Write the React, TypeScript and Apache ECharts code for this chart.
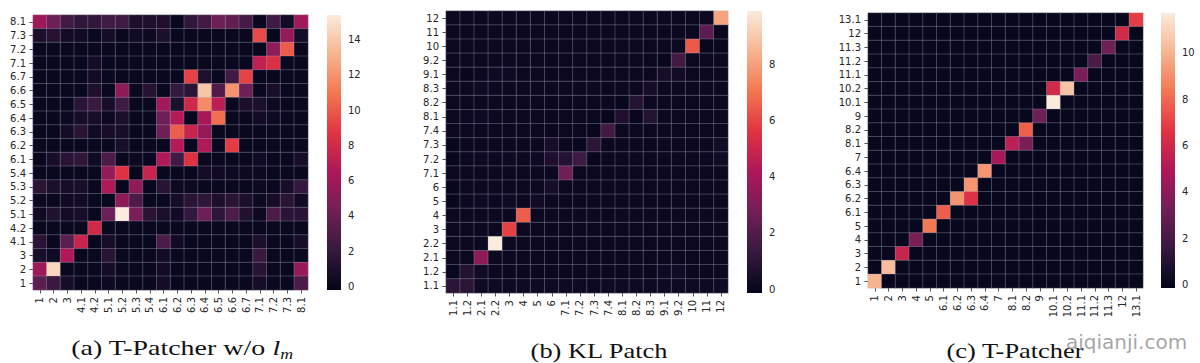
import React, { useEffect, useRef } from 'react';
import * as echarts from 'echarts';

// ---------- categories ----------
const A_CATS = ['1', '2', '3', '4.1', '4.2', '5.1', '5.2', '5.3', '5.4', '6.1', '6.2', '6.3', '6.4', '6.5', '6.6', '6.7', '7.1', '7.2', '7.3', '8.1'];
const B_CATS = ['1.1', '1.2', '2.1', '2.2', '3', '4', '5', '6', '7.1', '7.2', '7.3', '7.4', '8.1', '8.2', '8.3', '9.1', '9.2', '10', '11', '12'];
const C_CATS = ['1', '2', '3', '4', '5', '6.1', '6.2', '6.3', '6.4', '7', '8.1', '8.2', '9', '10.1', '10.2', '11.1', '11.2', '11.3', '12', '13.1'];

// ---------- values: rows listed top (last category) to bottom (first category) ----------
const A_ROWS = [
  [5.9, 4.2, 2.4, 1.8, 1.8, 2.4, 2.4, 0.9, 1.0, 1.0, 0.1, 1.8, 2.5, 4.2, 3.7, 2.6, 0.1, 2.4, 0.5, 6.0], // 8.1
  [0.9, 1.3, 0.5, 0.4, 0.1, 0.6, 0.1, 0.4, 0.2, 0.9, 0.1, 0.1, 0.1, 0.1, 0.1, 0.1, 9.5, 0.0, 5.6, 0.6], // 7.3
  [0.1, 0.1, 0.1, 0.1, 0.1, 0.1, 0.1, 0.1, 0.1, 0.1, 0.1, 0.1, 0.1, 0.1, 0.1, 0.1, 0.0, 5.4, 10.0, 0.1], // 7.2
  [0.1, 0.1, 0.1, 0.1, 0.6, 0.1, 0.1, 0.1, 0.1, 0.1, 0.1, 0.1, 0.1, 0.1, 0.1, 0.1, 7.3, 8.4, 0.1, 0.1], // 7.1
  [0.1, 0.1, 0.1, 0.1, 0.5, 0.1, 0.1, 0.1, 0.1, 0.1, 0.1, 9.2, 1.0, 0.1, 2.4, 9.2, 0.0, 0.0, 0.1, 0.1], // 6.7
  [0.1, 0.1, 0.1, 0.1, 1.0, 0.1, 5.3, 0.1, 1.3, 0.1, 2.0, 1.6, 13.9, 3.0, 12.0, 4.2, 0.1, 0.8, 0.1, 0.1], // 6.6
  [0.1, 0.1, 0.1, 1.5, 2.2, 0.8, 2.4, 0.1, 0.1, 6.0, 0.9, 7.9, 11.7, 7.1, 0.1, 0.9, 0.9, 0.2, 0.1, 0.1], // 6.5
  [0.1, 0.1, 0.2, 0.7, 0.7, 0.2, 0.9, 0.1, 0.1, 4.2, 6.8, 0.0, 6.3, 10.7, 0.1, 0.1, 0.5, 0.3, 0.1, 0.1], // 6.4
  [0.1, 0.1, 0.6, 1.5, 0.4, 0.7, 0.7, 0.1, 0.1, 4.2, 10.1, 7.6, 5.6, 0.1, 0.1, 0.1, 0.1, 0.1, 0.1, 0.1], // 6.3
  [0.1, 0.1, 0.1, 0.1, 0.1, 0.1, 0.8, 0.1, 0.1, 0.1, 6.8, 0.1, 6.6, 0.1, 9.0, 0.1, 0.1, 0.1, 0.1, 0.1], // 6.2
  [0.1, 0.8, 1.5, 1.8, 0.4, 2.9, 0.1, 0.2, 0.1, 6.6, 2.4, 8.6, 0.1, 0.1, 0.1, 0.1, 0.4, 0.1, 0.1, 0.7], // 6.1
  [0.1, 0.1, 0.1, 0.1, 0.1, 5.6, 8.6, 0.0, 7.6, 0.1, 0.1, 0.1, 0.6, 0.4, 0.3, 0.2, 0.2, 0.1, 0.1, 0.1], // 5.4
  [1.5, 0.9, 0.7, 0.8, 0.1, 6.6, 0.0, 5.4, 0.0, 1.4, 0.2, 0.2, 0.1, 0.1, 0.1, 0.1, 0.2, 0.1, 0.8, 1.9], // 5.3
  [0.3, 0.1, 0.4, 0.5, 0.1, 0.1, 5.3, 2.9, 0.0, 0.1, 0.6, 1.5, 1.7, 0.9, 1.5, 0.9, 0.2, 0.7, 1.5, 0.5], // 5.2
  [0.4, 1.1, 0.5, 0.7, 0.1, 4.1, 15.4, 4.6, 1.5, 0.9, 0.5, 1.9, 4.1, 1.7, 2.9, 1.1, 0.3, 2.9, 1.5, 1.5], // 5.1
  [0.1, 0.1, 0.1, 0.1, 8.0, 0.1, 0.1, 0.1, 0.1, 0.1, 0.1, 0.1, 0.1, 0.1, 0.1, 0.1, 0.1, 0.1, 0.1, 0.1], // 4.2
  [1.5, 0.1, 3.5, 7.6, 0.0, 0.7, 0.1, 0.1, 0.1, 2.9, 0.5, 0.1, 0.1, 0.1, 0.1, 0.1, 0.9, 0.1, 0.1, 0.7], // 4.1
  [0.8, 0.4, 6.6, 0.1, 0.1, 1.4, 0.1, 0.1, 0.1, 0.5, 0.1, 0.1, 0.1, 0.1, 0.1, 0.1, 2.2, 0.1, 0.1, 0.1], // 3
  [5.9, 14.6, 0.1, 0.1, 0.1, 0.6, 0.1, 0.1, 0.1, 0.5, 0.1, 0.1, 0.1, 0.1, 0.1, 0.1, 1.4, 0.1, 0.1, 5.6], // 2
  [3.5, 2.2, 0.7, 0.1, 0.1, 0.3, 0.1, 0.1, 0.1, 0.6, 0.1, 0.1, 0.1, 0.1, 0.1, 0.1, 0.7, 0.1, 0.1, 2.9], // 1
];

const B_ROWS = [
  [0.1, 0.1, 0.1, 0.1, 0.1, 0.1, 0.1, 0.1, 0.1, 0.1, 0.1, 0.1, 0.1, 0.1, 0.1, 0.1, 0.1, 0.1, 0.1, 8.1], // 12
  [0.1, 0.1, 0.1, 0.1, 0.1, 0.1, 0.1, 0.1, 0.1, 0.1, 0.1, 0.1, 0.1, 0.1, 0.1, 0.1, 0.1, 0.1, 2.3, 0.0], // 11
  [0.1, 0.1, 0.1, 0.1, 0.1, 0.1, 0.1, 0.1, 0.1, 0.1, 0.1, 0.1, 0.1, 0.1, 0.1, 0.1, 0.1, 6.4, 0.0, 0.0], // 10
  [0.1, 0.1, 0.1, 0.1, 0.1, 0.1, 0.1, 0.1, 0.1, 0.1, 0.1, 0.1, 0.1, 0.1, 0.1, 0.0, 1.6, 0.1, 0.1, 0.1], // 9.2
  [0.1, 0.0, 0.1, 0.2, 0.2, 0.1, 0.1, 0.1, 0.1, 0.1, 0.1, 0.1, 0.1, 0.1, 0.1, 0.4, 0.3, 0.1, 0.1, 0.1], // 9.1
  [0.1, 0.1, 0.2, 0.1, 0.1, 0.1, 0.1, 0.1, 0.1, 0.1, 0.1, 0.1, 0.1, 0.1, 0.4, 0.1, 0.1, 0.1, 0.1, 0.1], // 8.3
  [0.1, 0.1, 0.1, 0.1, 0.1, 0.1, 0.1, 0.1, 0.1, 0.1, 0.1, 0.1, 0.0, 0.8, 0.1, 0.1, 0.1, 0.1, 0.1, 0.1], // 8.2
  [0.1, 0.1, 0.2, 0.1, 0.1, 0.1, 0.1, 0.1, 0.1, 0.1, 0.1, 0.0, 0.6, 0.0, 0.8, 0.1, 0.1, 0.1, 0.1, 0.1], // 8.1
  [0.1, 0.1, 0.1, 0.1, 0.1, 0.1, 0.1, 0.1, 0.1, 0.1, 0.0, 1.6, 0.1, 0.1, 0.1, 0.1, 0.1, 0.1, 0.1, 0.1], // 7.4
  [0.0, 0.1, 0.1, 0.1, 0.1, 0.1, 0.1, 0.4, 0.1, 0.0, 1.0, 0.1, 0.1, 0.1, 0.1, 0.1, 0.1, 0.1, 0.1, 0.3], // 7.3
  [0.0, 0.1, 0.2, 0.1, 0.2, 0.1, 0.2, 0.6, 0.8, 1.5, 0.0, 0.1, 0.1, 0.1, 0.1, 0.1, 0.1, 0.1, 0.1, 0.3], // 7.2
  [0.1, 0.1, 0.1, 0.1, 0.1, 0.1, 0.1, 0.1, 2.7, 0.1, 0.1, 0.1, 0.1, 0.1, 0.1, 0.1, 0.1, 0.1, 0.1, 0.1], // 7.1
  [0.0, 0.1, 0.1, 0.1, 0.1, 0.1, 0.1, 0.4, 0.1, 0.1, 0.1, 0.1, 0.1, 0.1, 0.1, 0.1, 0.1, 0.1, 0.1, 0.1], // 6
  [0.0, 0.1, 0.2, 0.1, 0.2, 0.1, 0.3, 0.1, 0.1, 0.1, 0.1, 0.1, 0.1, 0.1, 0.1, 0.1, 0.1, 0.1, 0.1, 0.1], // 5
  [0.1, 0.1, 0.1, 0.1, 0.1, 6.5, 0.1, 0.1, 0.1, 0.1, 0.1, 0.1, 0.1, 0.1, 0.1, 0.1, 0.1, 0.1, 0.1, 0.1], // 4
  [0.1, 0.1, 0.1, 0.1, 5.9, 0.1, 0.1, 0.1, 0.1, 0.1, 0.1, 0.1, 0.1, 0.1, 0.1, 0.1, 0.1, 0.1, 0.1, 0.1], // 3
  [0.1, 0.1, 0.1, 9.9, 0.1, 0.1, 0.1, 0.1, 0.1, 0.1, 0.1, 0.1, 0.1, 0.1, 0.1, 0.1, 0.1, 0.1, 0.1, 0.1], // 2.2
  [0.1, 0.1, 3.4, 0.1, 0.1, 0.1, 0.1, 0.1, 0.1, 0.1, 0.1, 0.1, 0.1, 0.1, 0.1, 0.1, 0.1, 0.1, 0.1, 0.1], // 2.1
  [0.0, 0.8, 0.3, 0.1, 0.1, 0.1, 0.1, 0.1, 0.1, 0.1, 0.1, 0.1, 0.1, 0.1, 0.1, 0.2, 0.3, 0.1, 0.1, 0.1], // 1.2
  [1.0, 1.0, 0.2, 0.2, 0.2, 0.2, 0.2, 0.2, 0.2, 0.2, 0.1, 0.2, 0.2, 0.2, 0.2, 0.2, 0.2, 0.2, 0.2, 0.2], // 1.1
];

const C_ROWS = [
  [0, 0, 0, 0, 0, 0, 0, 0, 0, 0, 0, 0, 0, 0, 0, 0, 0, 0, 0, 6.9], // 13.1
  [0, 0, 0, 0, 0, 0, 0, 0, 0, 0, 0, 0, 0, 0, 0, 0, 0, 0, 6.1, 0], // 12
  [0, 0, 0, 0, 0, 0, 0, 0, 0, 0, 0, 0, 0, 0, 0, 0, 0, 3.2, 0, 0], // 11.3
  [0, 0, 0, 0, 0, 0, 0, 0, 0, 0, 0, 0, 0, 0, 0, 0, 2.2, 0, 0, 0], // 11.2
  [0, 0, 0, 0, 0, 0, 0, 0, 0, 0, 0, 0, 0, 0, 0, 3.5, 0, 0, 0, 0], // 11.1
  [0, 0, 0, 0, 0, 0, 0, 0, 0, 0, 0, 0, 0, 6.1, 10.5, 0, 0, 0, 0, 0], // 10.2
  [0, 0, 0, 0, 0, 0, 0, 0, 0, 0, 0, 0, 0, 11.7, 0, 0, 0, 0, 0, 0], // 10.1
  [0, 0, 0, 0, 0, 0, 0, 0, 0, 0, 0, 0, 3.2, 0, 0, 0, 0, 0, 0, 0], // 9
  [0, 0, 0, 0, 0, 0, 0, 0, 0, 0, 0, 7.8, 0, 0, 0, 0, 0, 0, 0, 0], // 8.2
  [0, 0, 0, 0, 0, 0, 0, 0, 0, 0, 5.4, 3.5, 0, 0, 0, 0, 0, 0, 0, 0], // 8.1
  [0, 0, 0, 0, 0, 0, 0, 0, 0, 4.8, 0, 0, 0, 0, 0, 0, 0, 0, 0, 0], // 7
  [0, 0, 0, 0, 0, 0, 0, 0, 9.2, 0, 0, 0, 0, 0, 0, 0, 0, 0, 0, 0], // 6.4
  [0, 0, 0, 0, 0, 0, 0, 9.2, 0, 0, 0, 0, 0, 0, 0, 0, 0, 0, 0, 0], // 6.3
  [0, 0, 0, 0, 0, 0, 9.1, 6.5, 0, 0, 0, 0, 0, 0, 0, 0, 0, 0, 0, 0], // 6.2
  [0, 0, 0, 0, 0, 7.7, 0, 0, 0, 0, 0, 0, 0, 0, 0, 0, 0, 0, 0, 0], // 6.1
  [0, 0, 0, 0, 8.4, 0, 0, 0, 0, 0, 0, 0, 0, 0, 0, 0, 0, 0, 0, 0], // 5
  [0, 0, 0, 3.5, 0, 0, 0, 0, 0, 0, 0, 0, 0, 0, 0, 0, 0, 0, 0, 0], // 4
  [0, 0, 5.8, 0, 0, 0, 0, 0, 0, 0, 0, 0, 0, 0, 0, 0, 0, 0, 0, 0], // 3
  [0, 10.3, 0, 0, 0, 0, 0, 0, 0, 0, 0, 0, 0, 0, 0, 0, 0, 0, 0, 0], // 2
  [10.0, 0, 0, 0, 0, 0, 0, 0, 0, 0, 0, 0, 0, 0, 0, 0, 0, 0, 0, 0], // 1
];

// colour-bar ranges and tick labels
const A_RANGE = [-0.2, 15.4];
const B_RANGE = [-0.14, 9.9];
const C_RANGE = [-0.13, 11.7];
const A_TICKS = [0, 2, 4, 6, 8, 10, 12, 14];
const B_TICKS = [0, 2, 4, 6, 8];
const C_TICKS = [0, 2, 4, 6, 8, 10];

const CAPTION_A = '(a) T-Patcher w/o ';
const CAPTION_A_VAR = 'l';
const CAPTION_A_SUB = 'm';
const CAPTION_B = '(b) KL Patch';
const CAPTION_C = '(c) T-Patcher';
const WATERMARK = 'aiqianji.com';

const ROCKET = ['#03051a', '#35193e', '#701f57', '#ad1759', '#e13342', '#f37651', '#f6b48f', '#faebdd'];

function toCells(rows: number[][]) {
  const n = rows.length;
  const out: number[][] = [];
  rows.forEach((row, r) => row.forEach((v, c) => out.push([c, n - 1 - r, v])));
  return out;
}

const FONT = 'DejaVu Sans';
const TXT = '#262626';

const PANELS = [
  { cats: A_CATS, rows: A_ROWS, range: A_RANGE, ticks: A_TICKS, left: 33, top: 15, size: 275, barLeft: 327, barW: 14 },
  { cats: B_CATS, rows: B_ROWS, range: B_RANGE, ticks: B_TICKS, left: 446, top: 11, size: 282, barLeft: 747, barW: 15 },
  { cats: C_CATS, rows: C_ROWS, range: C_RANGE, ticks: C_TICKS, left: 868, top: 13, size: 275, barLeft: 1161, barW: 14 },
];

export default function App() {
  const ref = useRef<HTMLDivElement>(null);
  useEffect(() => {
    if (!ref.current) return;
    const chart = echarts.init(ref.current, null, { renderer: 'svg' });
    const grid: any[] = [];
    const xAxis: any[] = [];
    const yAxis: any[] = [];
    const series: any[] = [];
    const visualMap: any[] = [];
    const stops = ROCKET.map((c, i) => ({ offset: i / (ROCKET.length - 1), color: c }));

    PANELS.forEach((p) => {
      const gi = grid.length;
      grid.push({ left: p.left, top: p.top, width: p.size, height: p.size });
      const catAxis = (pos: string) => ({
        type: 'category',
        gridIndex: gi,
        data: p.cats,
        position: pos,
        axisLine: { show: false },
        axisTick: { show: true, alignWithLabel: true, interval: 0, length: 3.5, lineStyle: { color: TXT, width: 0.8 } },
        axisLabel: {
          interval: 0,
          fontSize: 10,
          fontFamily: FONT,
          color: TXT,
          margin: 7,
          rotate: pos === 'bottom' ? 90 : 0,
        },
        splitLine: { show: false },
        splitArea: { show: false },
      });
      xAxis.push(catAxis('bottom'));
      yAxis.push(catAxis('left'));
      const si = series.length;
      series.push({
        type: 'heatmap',
        xAxisIndex: gi,
        yAxisIndex: gi,
        data: toCells(p.rows),
        itemStyle: { borderColor: 'rgba(185,185,200,0.5)', borderWidth: 0.6 },
        emphasis: { disabled: true },
        silent: true,
      });
      visualMap.push({
        type: 'continuous',
        show: false,
        seriesIndex: si,
        dimension: 2,
        min: p.range[0],
        max: p.range[1],
        inRange: { color: ROCKET },
      });

      // colour bar
      const bi = grid.length;
      grid.push({ left: p.barLeft, top: p.top, width: p.barW, height: p.size });
      xAxis.push({ type: 'value', gridIndex: bi, min: 0, max: 1, show: false });
      yAxis.push({
        type: 'value',
        gridIndex: bi,
        min: p.range[0],
        max: p.range[1],
        position: 'right',
        axisLine: { show: false },
        axisTick: { show: true, length: 3.5, customValues: p.ticks, lineStyle: { color: TXT, width: 0.8 } },
        axisLabel: { customValues: p.ticks, fontSize: 10, fontFamily: FONT, color: TXT, margin: 7 },
        splitLine: { show: false },
      });
      series.push({
        type: 'custom',
        xAxisIndex: bi,
        yAxisIndex: bi,
        silent: true,
        clip: false,
        data: [[0, p.range[0], p.range[1]]],
        renderItem: (params: any, api: any) => {
          const p0 = api.coord([0, api.value(2)]);
          const p1 = api.coord([1, api.value(1)]);
          return {
            type: 'rect',
            shape: { x: p0[0], y: p0[1], width: p1[0] - p0[0], height: p1[1] - p0[1] },
            style: { fill: new echarts.graphic.LinearGradient(0, 1, 0, 0, stops) },
          };
        },
      });
    });

    const serif = 'Liberation Serif';
    const graphic: any[] = [
      {
        type: 'text',
        x: 182,
        y: 361,
        scaleX: 1.27,
        style: {
          text: '{n|' + CAPTION_A + '}{i|' + CAPTION_A_VAR + '}{s|' + CAPTION_A_SUB + '}',
          textAlign: 'center',
          textVerticalAlign: 'bottom',
          rich: {
            n: { fontFamily: serif, fontSize: 22, lineHeight: 26, verticalAlign: 'middle', fill: '#111' },
            i: { fontFamily: serif, fontSize: 22, lineHeight: 26, verticalAlign: 'middle', fontStyle: 'italic', fill: '#111' },
            s: { fontFamily: serif, fontSize: 14, lineHeight: 14, verticalAlign: 'bottom', fontStyle: 'italic', fill: '#111' },
          },
        },
      },
      {
        type: 'text',
        x: 599,
        y: 361,
        scaleX: 1.2,
        style: { text: CAPTION_B, fontFamily: serif, fontSize: 22, fill: '#111', textAlign: 'center', textVerticalAlign: 'bottom' },
      },
      {
        type: 'text',
        x: 1015,
        y: 361,
        scaleX: 1.2,
        style: { text: CAPTION_C, fontFamily: serif, fontSize: 22, fill: '#111', textAlign: 'center', textVerticalAlign: 'bottom' },
      },
      {
        type: 'text',
        x: 1066,
        y: 352,
        style: { text: WATERMARK, fontFamily: FONT, fontSize: 20, fill: 'rgba(150,150,150,0.85)', textAlign: 'left', textVerticalAlign: 'bottom' },
      },
    ];

    chart.setOption({
      animation: false,
      backgroundColor: '#ffffff',
      grid,
      xAxis,
      yAxis,
      series,
      visualMap,
      graphic,
    });
    return () => chart.dispose();
  }, []);
  return <div ref={ref} style={{ position: 'fixed', left: 0, top: 0, width: 1200, height: 363 }} />;
}
